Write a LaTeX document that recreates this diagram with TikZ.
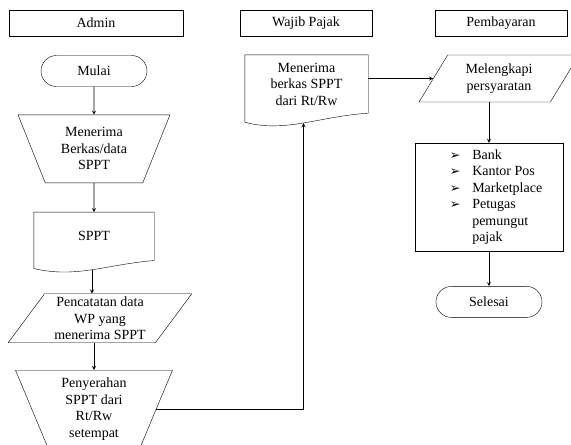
\documentclass[tikz,border=0pt]{standalone}
\usepackage{fontspec}
\setmainfont{Liberation Serif}
\newfontfamily\symfont{DejaVu Sans}
\usepackage{tikz}
\usetikzlibrary{shapes.geometric, arrows.meta, positioning, calc}
\newcommand{\listarrow}{{\symfont\fontsize{12.5}{12}\selectfont ➢}}
\tikzstyle{lane} = [rectangle, draw=black, minimum width=132pt, minimum height=26pt, text centered, font=\fontsize{14}{16.5}\selectfont]
\tikzstyle{startstop} = [rectangle, rounded corners=15.5pt, draw=black, minimum width=106pt, minimum height=31pt, text centered, font=\fontsize{14}{16.5}\selectfont]
\tikzstyle{manual} = [trapezium, trapezium stretches=true, shape border rotate=180, draw=black, inner sep=0pt, align=center, font=\fontsize{14}{16.5}\selectfont]
\tikzstyle{io} = [trapezium, trapezium stretches=true, trapezium left angle=55, trapezium right angle=125, draw=black, inner sep=0pt, align=center, font=\fontsize{14}{16.5}\selectfont]
\tikzstyle{doc} = [rectangle, inner sep=0pt, align=center, font=\fontsize{14}{16.5}\selectfont]
\tikzstyle{process} = [rectangle, draw=black, minimum width=148pt, minimum height=108pt, font=\fontsize{14}{16.5}\selectfont]
\tikzstyle{arrow} = [thick,->,>=stealth]

\begin{document}
\begin{tikzpicture}[x=1pt, y=-1pt, node distance=28pt]
    \useasboundingbox (0,0) rectangle (571,445);
    % lanes
    \node[lane, minimum width=174pt] (admin) at (96,23) {Admin};
    \node[lane] (wajib) at (306,23) {Wajib Pajak};
    \node[lane] (bayar) at (501,23) {Pembayaran};

    % admin
    \node[startstop] (mulai) at (94,71) {Mulai};
    \node[manual, below=of mulai, minimum width=152pt, minimum height=68pt, trapezium angle=66.5] (terima) {Menerima\\Berkas/data\\SPPT};
    \node[doc, below=29pt of terima, minimum width=120pt, minimum height=48pt] (sppt) {SPPT};
    \node[io, below=33pt of sppt, xshift=6pt, minimum width=184pt, minimum height=49pt] (catat) {Pencatatan data\\WP yang\\menerima SPPT};
    \node[manual, below=370pt of admin.north, anchor=north, minimum width=157pt, minimum height=78pt, trapezium angle=69.5] (serah) at (94,0) {Penyerahan\\SPPT dari\\Rt/Rw\\setempat};

    % wajib pajak
    \node[doc, minimum width=123pt, minimum height=58pt] (terimawp) at (306.5,84) {Menerima\\berkas SPPT\\dari Rt/Rw};

    % pembayaran
    \node[io, trapezium left angle=57.5, trapezium right angle=122.5, minimum width=160pt, minimum height=47pt] (lengkap) at (499,78.5) {Melengkapi\\persyaratan};
    \node[process] (tempat) at (489,197) {\hspace{14pt}\begin{tabular}{@{}l@{\hspace{12pt}}l@{}}
        \listarrow & Bank\\
        \listarrow & Kantor Pos\\
        \listarrow & Marketplace\\
        \listarrow & Petugas\\
                   & pemungut\\
                   & pajak
    \end{tabular}};
    \node[startstop, below=35pt of tempat] (selesai) {Selesai};

    % document outlines
    \draw (sppt.north west) -- (sppt.north east) -- (sppt.south east)
        .. controls ($(sppt.south east)+(-48,4)$) and ($(sppt.south west)+(42,18)$) .. ($(sppt.south west)+(0,8)$) -- cycle;
    \draw (terimawp.north west) -- (terimawp.north east) -- (terimawp.south east)
        .. controls ($(terimawp.south east)+(-48,3)$) and ($(terimawp.south west)+(40,20)$) .. ($(terimawp.south west)+(0,9)$) -- cycle;
    \coordinate (spptout) at ($(sppt.south)+(-2,9)$);
    \coordinate (wpin) at ($(terimawp.south)+(-3,10)$);

    \draw[arrow] (mulai) -- (terima);
    \draw[arrow] (terima) -- (sppt);
    \draw[arrow] (spptout) -- (spptout |- catat.north);
    \draw[arrow] (catat.south -| serah.north) -- (serah.north);
    \draw[arrow] (serah.east) -| (wpin);
    \draw[arrow] (terimawp.east |- lengkap.west) -- (lengkap.west);
    \draw[arrow] (tempat.north |- lengkap.south) -- (tempat.north);
    \draw[arrow] (tempat) -- (selesai);
\end{tikzpicture}
\end{document}
